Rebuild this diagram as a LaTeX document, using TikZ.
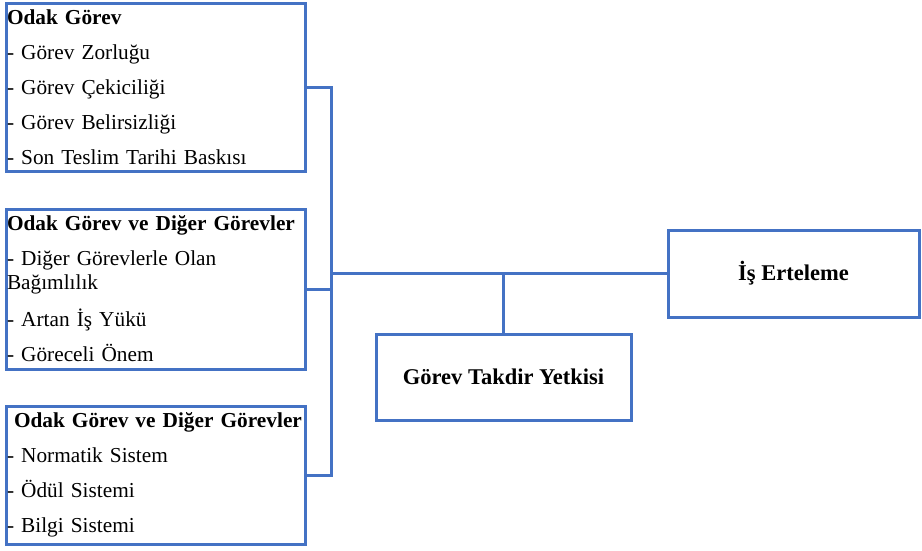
\documentclass[tikz,border=0pt]{standalone}
\usepackage{fontspec}
\setmainfont{Liberation Serif}
\usepackage{tikz}
\usetikzlibrary{positioning}
\definecolor{boxblue}{HTML}{4472C4}

\tikzset{
    kutu/.style={draw=boxblue, line width=3pt, rectangle, inner sep=1pt,
        font=\fontsize{21.3}{35}\selectfont},
    listekutu/.style={kutu, align=left, text width=297pt, minimum width=299pt},
    sonuckutu/.style={kutu, font=\fontsize{22.5}{24}\selectfont\bfseries, align=center},
    baglanti/.style={draw=boxblue, line width=3pt}
}

\begin{document}
\begin{tikzpicture}[x=1pt,y=-1pt]
    \useasboundingbox (0,0) rectangle (922,550);
    \node[listekutu, minimum height=168pt] (odak) at (155.5,87)
        {\textbf{Odak Görev}\\- Görev Zorluğu\\- Görev Çekiciliği\\- Görev Belirsizliği\\- Son Teslim Tarihi Baskısı};
    \node[listekutu, minimum height=160pt] (diger) at (155.5,289)
        {\textbf{Odak Görev ve Diğer Görevler}\\- Diğer Görevlerle Olan\\[-11pt]Bağımlılık\\[2pt]- Artan İş Yükü\\- Göreceli Önem};
    \node[listekutu, minimum height=138pt] (sistem) at (155.5,475)
        {\hspace*{7pt}\textbf{Odak Görev ve Diğer Görevler}\\- Normatik Sistem\\- Ödül Sistemi\\- Bilgi Sistemi};
    \node[sonuckutu, minimum width=251pt, minimum height=87pt] (erteleme) at (793.5,273.5) {İş Erteleme};
    \node[sonuckutu, minimum width=255pt, minimum height=86pt] (takdir) at (503.5,377) {Görev Takdir Yetkisi};

    \coordinate (bus) at (331,273.5);
    \draw[baglanti] (odak.east) -| (bus);
    \draw[baglanti] (sistem.east) -| (bus);
    \draw[baglanti] (diger.east) -- (diger.east -| bus);
    \draw[baglanti] (bus) -- (erteleme.west);
    \draw[baglanti] (takdir.north) -- (takdir.north |- bus);
\end{tikzpicture}
\end{document}
